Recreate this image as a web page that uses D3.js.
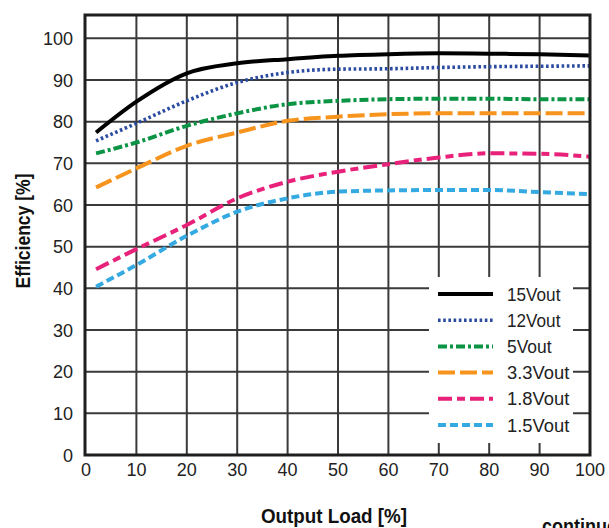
<!DOCTYPE html>
<html>
<head>
<meta charset="utf-8">
<script src="https://cdn.jsdelivr.net/npm/d3@7"></script>
<style>
  body { margin: 0; background: #fff; }
  svg { display: block; }
</style>
</head>
<body>
<div id="chart"></div>
<script>
// Data
const loads = [2, 10, 20, 30, 40, 50, 60, 70, 80, 90, 100];
const eff15 = [77.4, 84.8, 91.6, 94.0, 95.0, 95.8, 96.2, 96.4, 96.3, 96.2, 95.9];
const eff12 = [75.4, 79.6, 85.0, 89.4, 91.8, 92.6, 92.7, 93.0, 93.2, 93.3, 93.4];
const eff5 = [72.4, 75.0, 79.0, 82.0, 84.2, 85.0, 85.4, 85.5, 85.5, 85.4, 85.4];
const eff33 = [64.2, 68.8, 74.2, 77.4, 80.2, 81.2, 81.8, 82.0, 82.0, 82.0, 82.0];
const eff18 = [44.6, 49.4, 55.2, 61.6, 65.6, 68.0, 69.8, 71.4, 72.4, 72.3, 71.6];
const eff15b = [40.4, 45.6, 52.6, 58.4, 61.6, 63.2, 63.5, 63.6, 63.6, 63.1, 62.6];
const names = ["15Vout", "12Vout", "5Vout", "3.3Vout", "1.8Vout", "1.5Vout"];
const xTicks = [0, 10, 20, 30, 40, 50, 60, 70, 80, 90, 100];
const yTicks = [0, 10, 20, 30, 40, 50, 60, 70, 80, 90, 100];

const width = 609, height = 528;
const tickFont = "'Liberation Sans', Arial, sans-serif";
const titleFont = "'Liberation Sans Narrow', 'Arial Narrow', 'Liberation Sans', sans-serif";

const x = d3.scaleLinear().domain([0, 100]).range([86, 590]);
const y = d3.scaleLinear().domain([0, 105.6]).range([455, 15]);

// series styles
const styles = [
    {color: "#000000", dash: null, w: 4},
    {color: "#2a4ba0", dash: "2.6,2.6", w: 3.6},
    {color: "#0a9444", dash: "9,3,3,3", w: 4},
    {color: "#f7941d", dash: "17,5", w: 4},
    {color: "#e8217a", dash: "14,5,8,5", w: 4},
    {color: "#35a9e1", dash: "8,4", w: 4}
];
const values = [eff15, eff12, eff5, eff33, eff18, eff15b];
const series = names.map((n, i) => ({
    name: n,
    style: styles[i],
    points: loads.map((l, j) => ({load: l, eff: values[i][j]}))
}));

const svg = d3.select("#chart").append("svg")
    .attr("width", width)
    .attr("height", height);

// grid
const grid = svg.append("g")
    .attr("stroke", "#3a3a3a")
    .attr("stroke-width", 2);

grid.selectAll("line.v")
    .data(xTicks.slice(1, -1))
    .join("line")
    .attr("class", "v")
    .attr("x1", d => x(d)).attr("x2", d => x(d))
    .attr("y1", y(105.6)).attr("y2", y(0));

grid.selectAll("line.h")
    .data(yTicks.slice(1))
    .join("line")
    .attr("class", "h")
    .attr("x1", x(0)).attr("x2", x(100))
    .attr("y1", d => y(d)).attr("y2", d => y(d));

// legend background covers the grid
const legX = 429, legY = 277;
svg.append("rect")
    .attr("x", legX).attr("y", legY)
    .attr("width", 144).attr("height", 166)
    .attr("fill", "#fff");

// curves
const line = d3.line()
    .x(d => x(d.load))
    .y(d => y(d.eff))
    .curve(d3.curveMonotoneX);

svg.append("g")
    .attr("fill", "none")
    .selectAll("path")
    .data(series)
    .join("path")
    .attr("d", d => line(d.points))
    .attr("stroke", d => d.style.color)
    .attr("stroke-width", d => d.style.w)
    .attr("stroke-dasharray", d => d.style.dash);

// frame
svg.append("rect")
    .attr("x", x(0) - 1).attr("y", y(105.6))
    .attr("width", x(100) - x(0) + 1).attr("height", y(0) - y(105.6))
    .attr("fill", "none")
    .attr("stroke", "#1e1e1e")
    .attr("stroke-width", 3);

// tick labels
svg.append("g")
    .selectAll("text")
    .data(yTicks)
    .join("text")
    .attr("x", 73)
    .attr("y", d => y(d) + 6.5)
    .attr("text-anchor", "end")
    .attr("font-family", tickFont)
    .attr("font-size", 18)
    .attr("fill", "#222")
    .text(d => d);

svg.append("g")
    .selectAll("text")
    .data(xTicks)
    .join("text")
    .attr("x", d => x(d))
    .attr("y", 476)
    .attr("text-anchor", "middle")
    .attr("font-family", tickFont)
    .attr("font-size", 18)
    .attr("fill", "#222")
    .text(d => d);

// axis titles (condensed face in the original)
svg.append("text")
    .attr("x", 334)
    .attr("y", 523)
    .attr("text-anchor", "middle")
    .attr("font-family", titleFont)
    .attr("font-weight", "bold")
    .attr("font-size", 21)
    .attr("textLength", 146)
    .attr("lengthAdjust", "spacingAndGlyphs")
    .attr("fill", "#111")
    .text("Output Load [%]");

svg.append("text")
    .attr("transform", "translate(30,231) rotate(-90)")
    .attr("text-anchor", "middle")
    .attr("font-family", titleFont)
    .attr("font-weight", "bold")
    .attr("font-size", 21)
    .attr("textLength", 115)
    .attr("lengthAdjust", "spacingAndGlyphs")
    .attr("fill", "#111")
    .text("Efficiency [%]");

// caption cut by the bottom edge, as in the original
svg.append("text")
    .attr("x", 542)
    .attr("y", 533)
    .attr("font-family", titleFont)
    .attr("font-weight", "bold")
    .attr("font-size", 21)
    .attr("textLength", 86)
    .attr("lengthAdjust", "spacingAndGlyphs")
    .attr("fill", "#111")
    .text("continued");

// legend
const leg = svg.append("g")
    .selectAll("g")
    .data(series)
    .join("g")
    .attr("transform", (d, i) => `translate(0,${294 + i * 26.2})`);

leg.append("line")
    .attr("x1", 438).attr("x2", 493)
    .attr("y1", 0).attr("y2", 0)
    .attr("stroke", d => d.style.color)
    .attr("stroke-width", d => d.style.w)
    .attr("stroke-dasharray", d => d.style.dash);

leg.append("text")
    .attr("x", 507)
    .attr("y", 6.5)
    .attr("font-family", tickFont)
    .attr("font-size", 17.5)
    .attr("textLength", d => d.name.length * 8.9)
    .attr("lengthAdjust", "spacingAndGlyphs")
    .attr("fill", "#222")
    .text(d => d.name);
</script>
</body>
</html>
